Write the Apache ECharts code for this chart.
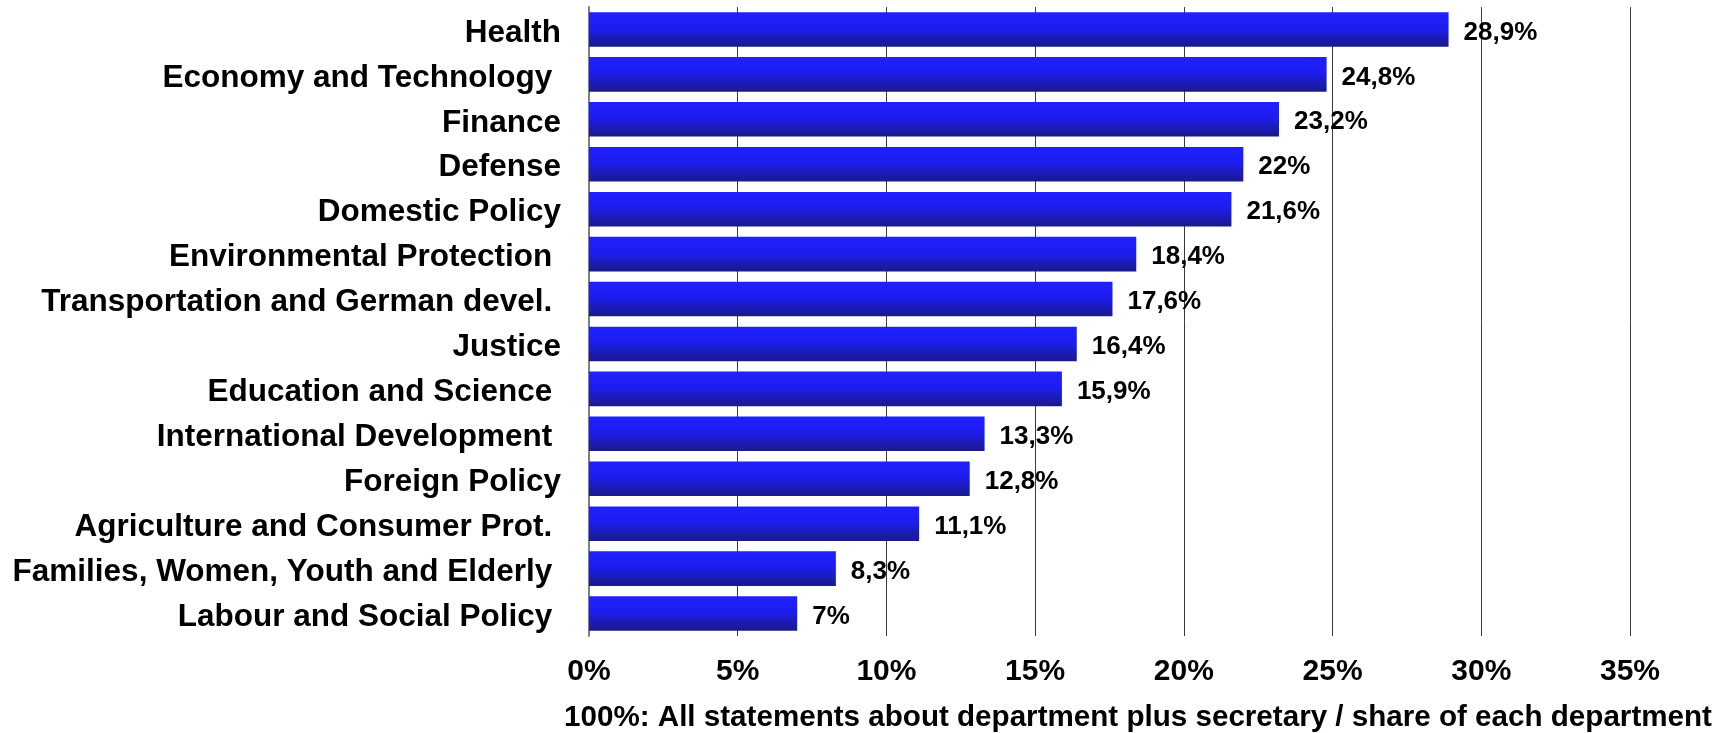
<!DOCTYPE html>
<html>
<head>
<meta charset="utf-8">
<script src="https://cdn.jsdelivr.net/npm/echarts@6/dist/echarts.min.js"></script>
<style>
html,body{margin:0;padding:0;background:#fff;}
#chart{width:1712px;height:733px;}
</style>
</head>
<body>
<div id="chart"></div>
<script>
const categories = [
  "Health",
  "Economy and Technology ",
  "Finance",
  "Defense",
  "Domestic Policy",
  "Environmental Protection ",
  "Transportation and German devel. ",
  "Justice",
  "Education and Science ",
  "International Development ",
  "Foreign Policy",
  "Agriculture and Consumer Prot. ",
  "Families, Women, Youth and Elderly ",
  "Labour and Social Policy "
];
const values = [28.9, 24.8, 23.2, 22, 21.6, 18.4, 17.6, 16.4, 15.9, 13.3, 12.8, 11.1, 8.3, 7];
const xTicks = { min: 0, max: 35, interval: 5 };
const footnote = "100%: All statements about department plus secretary / share of each department";

const FONT = '"Liberation Sans", Arial, sans-serif';
const chart = echarts.init(document.getElementById('chart'), null, { renderer: 'canvas' });
chart.setOption({
  animation: false,
  backgroundColor: '#ffffff',
  title: {
    text: footnote,
    left: 564,
    top: 703,
    padding: 0,
    textStyle: { fontFamily: FONT, fontSize: 29.6, fontWeight: 'bold', color: '#000' }
  },
  grid: { left: 589, right: 82, top: 7, bottom: 97, containLabel: false },
  xAxis: {
    type: 'value',
    min: xTicks.min, max: xTicks.max, interval: xTicks.interval,
    axisLine: { show: false },
    axisTick: { show: false },
    splitLine: { show: true, lineStyle: { color: '#3a3a3a', width: 1 } },
    axisLabel: {
      formatter: '{value}%',
      margin: 21,
      fontFamily: FONT, fontSize: 30, fontWeight: 'bold', color: '#000'
    }
  },
  yAxis: {
    type: 'category',
    data: categories,
    inverse: true,
    axisLine: { show: true, lineStyle: { color: '#808080', width: 2 } },
    axisTick: { show: false },
    splitLine: { show: false },
    axisLabel: {
      margin: 28,
      formatter: v => '{c|' + v + '}',
      rich: {
        c: { padding: [7, 0, 0, 0], fontFamily: FONT, fontSize: 31.5, fontWeight: 'bold', color: '#000' }
      },
      fontFamily: FONT, fontSize: 31.5, fontWeight: 'bold', color: '#000'
    }
  },
  series: [{
    type: 'bar',
    data: values,
    barCategoryGap: '23%',
    itemStyle: {
      color: new echarts.graphic.LinearGradient(0, 0, 0, 1, [
        { offset: 0, color: '#2020ff' },
        { offset: 0.45, color: '#1d1df0' },
        { offset: 1, color: '#1a1a8a' }
      ])
    },
    label: {
      show: true,
      position: 'right',
      distance: 15,
      formatter: p => '{v|' + String(p.value).replace('.', ',') + '%}',
      rich: {
        v: { padding: [6, 0, 0, 0], fontFamily: FONT, fontSize: 26, fontWeight: 'bold', color: '#000' }
      },
      fontFamily: FONT, fontSize: 26, fontWeight: 'bold', color: '#000'
    }
  }]
});
</script>
</body>
</html>
